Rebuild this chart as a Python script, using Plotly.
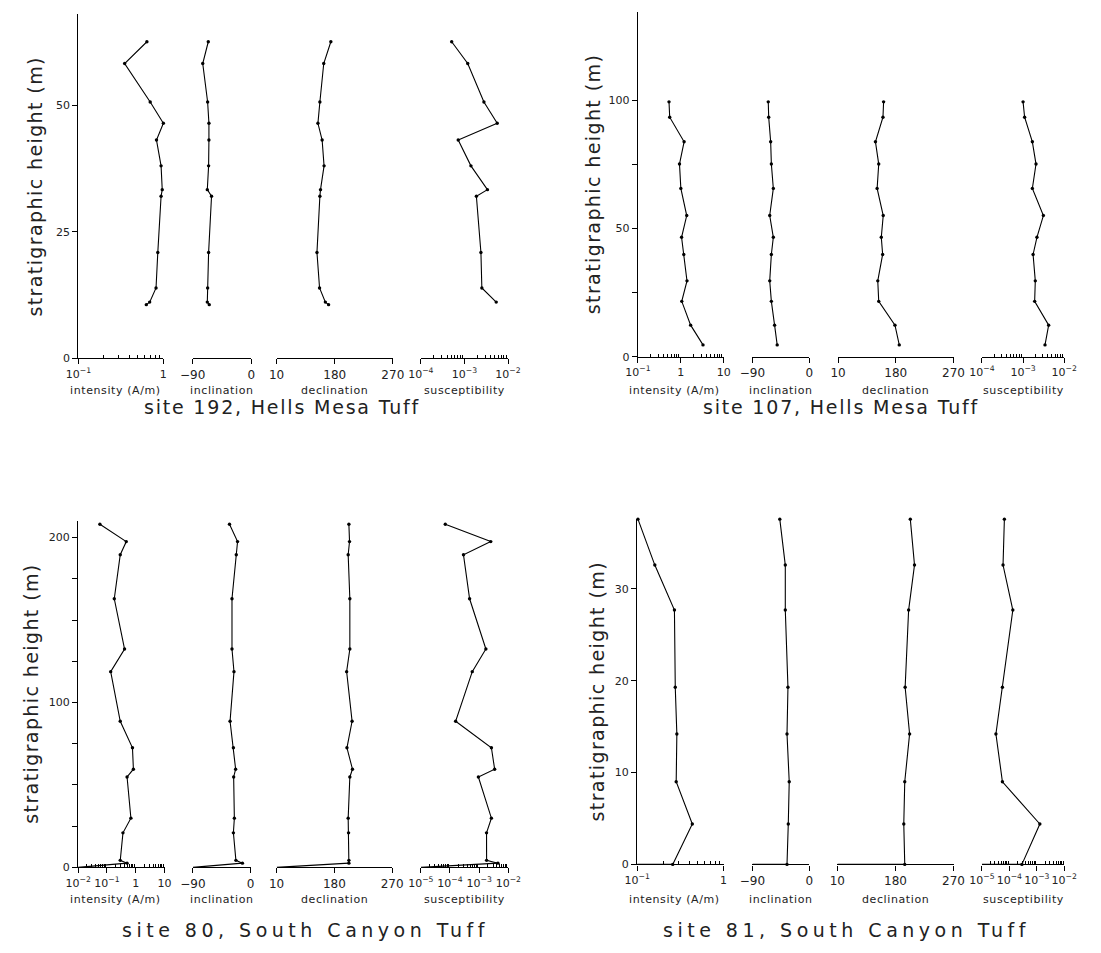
import plotly.graph_objects as go

W, H = 1101, 953

# ---------------- data ----------------
# site 192, Hells Mesa Tuff
h192 = [62.5, 58.2, 50.6, 46.4, 43.1, 38.0, 33.3, 32.0, 20.9, 13.9, 11.1, 10.6]
int192 = [0.64, 0.35, 0.70, 1.0, 0.83, 0.94, 0.97, 0.94, 0.86, 0.82, 0.69, 0.63]
inc192 = [-66, -74.5, -67, -65, -65, -65.5, -67.5, -61, -65.5, -67, -67.5, -64.5]
dec192 = [174, 163, 157, 154, 160.5, 163.5, 158, 157, 152.5, 156.5, 165.5, 170.5]
hs192 = [62.5, 58.2, 50.6, 46.4, 43.1, 38.0, 33.3, 32.0, 20.9, 13.9, 11.1]
sus192 = [5.1e-4, 1.19e-3, 2.8e-3, 5.65e-3, 7.2e-4, 1.41e-3, 3.37e-3, 1.88e-3, 2.39e-3, 2.51e-3, 5.36e-3]

# site 107, Hells Mesa Tuff
h107 = [99.5, 93.5, 83.9, 75.2, 65.7, 55.1, 46.6, 39.9, 29.6, 21.6, 12.3, 4.6]
int107 = [0.53, 0.55, 1.19, 0.93, 1.0, 1.37, 1.04, 1.17, 1.39, 1.05, 1.69, 3.28]
inc107 = [-65, -64.3, -61.2, -60.1, -57.0, -62.7, -57.0, -60.1, -62.7, -60.1, -55.0, -50.9]
dec107 = [161, 160.0, 148.3, 153.4, 150.9, 160.4, 157.4, 159.5, 151.9, 153.4, 178.7, 185.4]
sus107 = [1.0e-3, 1.09e-3, 1.68e-3, 2.06e-3, 1.68e-3, 3.11e-3, 2.17e-3, 1.75e-3, 1.98e-3, 1.91e-3, 4.18e-3, 3.41e-3]

# site 80, South Canyon Tuff (last entry: trace returns along the base line)
h80 = [208.1, 197.6, 189.6, 162.9, 132.4, 118.7, 88.6, 72.5, 59.5, 54.8, 29.8, 20.9, 4.2, 2.5, 0.0]
int80 = [0.057, 0.47, 0.29, 0.18, 0.41, 0.135, 0.29, 0.77, 0.83, 0.50, 0.68, 0.36, 0.29, 0.50, 0.01]
inc80 = [-32.9, -20.3, -22.3, -29.0, -29.0, -25.9, -32.0, -26.8, -23.3, -26.4, -25.3, -26.8, -22.9, -12.7, -90]
dec80 = [202.6, 203.6, 201.5, 204.1, 204.1, 199.1, 207.6, 199.6, 208.2, 204.1, 201.5, 202.1, 202.6, 202.6, 90]
sus80 = [6.9e-5, 2.5e-3, 2.9e-4, 4.7e-4, 1.7e-3, 5.8e-4, 1.56e-4, 2.63e-3, 3.4e-3, 9.4e-4, 2.63e-3, 1.79e-3, 1.8e-3, 4.4e-3, 1e-5]

# site 81, South Canyon Tuff (last entry: trace returns along the base line)
h81 = [37.6, 32.6, 27.7, 19.3, 14.2, 9.0, 4.4, 0.0, 0.0]
int81 = [0.102, 0.16, 0.27, 0.276, 0.288, 0.283, 0.435, 0.258, 0.1]
inc81 = [-46.8, -38.1, -38.1, -33.9, -35.4, -31.9, -33.4, -35.4, -90]
dec81 = [203.0, 209.5, 200.4, 195.0, 201.9, 194.4, 192.9, 194.4, 90]
sus81 = [6.6e-5, 5.9e-5, 1.34e-4, 5.6e-5, 3.25e-5, 5.6e-5, 1.29e-3, 2.87e-4, 1e-5]

titles = ["site 192, Hells Mesa Tuff", "site 107, Hells Mesa Tuff",
          "site 80, South Canyon Tuff", "site 81, South Canyon Tuff"]
var_labels = ["intensity (A/m)", "inclination", "declination", "susceptibility"]
ytitle = "stratigraphic height (m)"

# ---------------- layout geometry (pixels) ----------------
FONT = "DejaVu Sans"
TXT = "#222"
panels = [
    dict(h=h192, x=[int192, inc192, dec192, sus192], hs=hs192, base=False,
         y0=361, ytop=14, ymax=68,
         xd=[(67, 154), (184, 244), (270, 389), (417.7, 507)],
         irange=(-1, 0), srange=(-4, -2),
         yticks=[0, 25, 50], ytext=["0", "25", "50"],
         ytx=23, lab_y=393, title_x=276, title_y=410, tsp=1.8),
    dict(h=h107, x=[int107, inc107, dec107, sus107], hs=h107, base=False,
         y0=359.3, ytop=12, ymax=(359.3 - 12) / 2.58,
         xd=[(640, 728), (757.3, 815.7), (845, 963.3), (992.3, 1076.7)],
         irange=(-1, 1), srange=(-4, -2),
         yticks=[0, 25, 50, 75, 100], ytext=["0", "", "50", "", "100"],
         ytx=594, lab_y=393, title_x=848, title_y=410, tsp=1.8),
    dict(h=h80, x=[int80, inc80, dec80, sus80], hs=h80, base=True,
         y0=873.7, ytop=525, ymax=210,
         xd=[(66.7, 155.2), (184.3, 243.3), (270, 388.3), (417.7, 507.3)],
         irange=(-2, 1), srange=(-5, -2),
         yticks=[0, 25, 50, 75, 100, 125, 150, 175, 200],
         ytext=["0", "", "", "", "100", "", "", "", "200"],
         ytx=19, lab_y=906, title_x=300, title_y=937, tsp=4.5),
    dict(h=h81, x=[int81, inc81, dec81, sus81], hs=h81, base=True,
         y0=870.8, ytop=522.7, ymax=(870.8 - 522.7) / 9.25,
         xd=[(639.3, 727.7), (757.3, 815.7), (844.3, 963.3), (992.3, 1076.7)],
         irange=(-1, 0), srange=(-5, -2),
         yticks=[0, 10, 20, 30], ytext=["0", "10", "20", "30"],
         ytx=598, lab_y=906, title_x=854, title_y=937, tsp=4.5),
]


def px(x):
    return x / W


def py(y):
    return 1 - y / H


def spaced(text, sp):
    return '<span style="letter-spacing:%.1fpx">%s</span>' % (sp, text)


def pow_label(e):
    if e == 0:
        return "1"
    if e == 1:
        return "10"
    return "10<sup>\u2212%d</sup>" % (-e)


def log_axis_ticks(r):
    vals = [10.0 ** e for e in range(r[0], r[1] + 1)]
    text = [pow_label(e) for e in range(r[0], r[1] + 1)]
    minor = [k * 10.0 ** e for e in range(r[0], r[1]) for k in range(2, 10)]
    return vals, text, minor


fig = go.Figure()
layout = {}
annotations = []
ax_i = 0
for p_i, p in enumerate(panels):
    yname = "yaxis" if p_i == 0 else "yaxis%d" % (p_i + 1)
    yref = "y" if p_i == 0 else "y%d" % (p_i + 1)
    first_x = None
    for v in range(4):
        ax_i += 1
        xname = "xaxis" if ax_i == 1 else "xaxis%d" % ax_i
        xref = "x" if ax_i == 1 else "x%d" % ax_i
        if v == 0:
            first_x = xref
        d0, d1 = p["xd"][v]
        base = dict(domain=[px(d0), px(d1)], anchor=yref, showline=True,
                    linecolor="black", linewidth=1.3, ticks="outside",
                    ticklen=5, tickwidth=1.2, tickcolor="black",
                    showgrid=False, zeroline=False, tickangle=0,
                    tickfont=dict(family=FONT, size=12, color=TXT),
                    fixedrange=True)
        if v == 0 or v == 3:
            r = p["irange"] if v == 0 else p["srange"]
            vals, text, minor = log_axis_ticks(r)
            base.update(type="log", range=list(r), tickmode="array",
                        tickvals=vals, ticktext=text,
                        tickfont=dict(family=FONT, size=11, color=TXT),
                        minor=dict(tickmode="array", tickvals=minor,
                                   ticks="inside", ticklen=3,
                                   tickcolor="black", tickwidth=1,
                                   showgrid=False))
        elif v == 1:
            base.update(range=[-90, 0], tickmode="array", tickvals=[-90, 0],
                        ticktext=["\u221290", "0"])
        else:
            base.update(range=[90, 270], tickmode="array",
                        tickvals=[90, 180, 270], ticktext=["10", "180", "270"])
        layout[xname] = base
        hh = p["hs"] if v == 3 else p["h"]
        xs = p["x"][v]
        if p["base"]:
            # measured points with markers, then the return along the base line
            fig.add_trace(go.Scatter(
                x=xs[-2:], y=hh[-2:], xaxis=xref, yaxis=yref, mode="lines",
                line=dict(color="black", width=1.3),
                cliponaxis=False, showlegend=False, hoverinfo="skip"))
            xs_m, hh_m = xs[:-1], hh[:-1]
        else:
            xs_m, hh_m = xs, hh
        fig.add_trace(go.Scatter(
            x=xs_m, y=hh_m, xaxis=xref, yaxis=yref, mode="lines+markers",
            line=dict(color="black", width=1.1),
            marker=dict(color="black", size=3.4),
            cliponaxis=False, showlegend=False, hoverinfo="skip"))
        cx = (d0 + d1) / 2 - (6 if v == 0 else 0)
        annotations.append(dict(
            x=px(cx), y=py(p["lab_y"]), xref="paper", yref="paper",
            text=spaced(var_labels[v], 0.6), showarrow=False, xanchor="center",
            yanchor="middle", font=dict(family=FONT, size=11, color=TXT)))
    layout[yname] = dict(
        domain=[py(p["y0"]), py(p["ytop"])], range=[0, p["ymax"]],
        anchor=first_x, showline=True, linecolor="black", linewidth=1.3,
        ticks="outside", ticklen=5, tickwidth=1.2, tickcolor="black",
        tickmode="array", tickvals=p["yticks"], ticktext=p["ytext"],
        showgrid=False, zeroline=False, fixedrange=True,
        tickfont=dict(family=FONT, size=11, color=TXT))
    annotations.append(dict(
        x=px(p["ytx"]), y=py((p["y0"] + p["ytop"]) / 2), xref="paper",
        yref="paper", text=spaced(ytitle, 1.4), textangle=-90, showarrow=False,
        xanchor="center", yanchor="middle",
        font=dict(family=FONT, size=19, color=TXT)))
    annotations.append(dict(
        x=px(p["title_x"]), y=py(p["title_y"]), xref="paper", yref="paper",
        text=spaced(titles[p_i], p["tsp"]), showarrow=False,
        xanchor="center", yanchor="middle",
        font=dict(family=FONT, size=19, color=TXT)))

fig.update_layout(width=W, height=H, margin=dict(l=0, r=0, t=0, b=0),
                  paper_bgcolor="white", plot_bgcolor="white",
                  annotations=annotations, **layout)
fig.write_html("out.html")
